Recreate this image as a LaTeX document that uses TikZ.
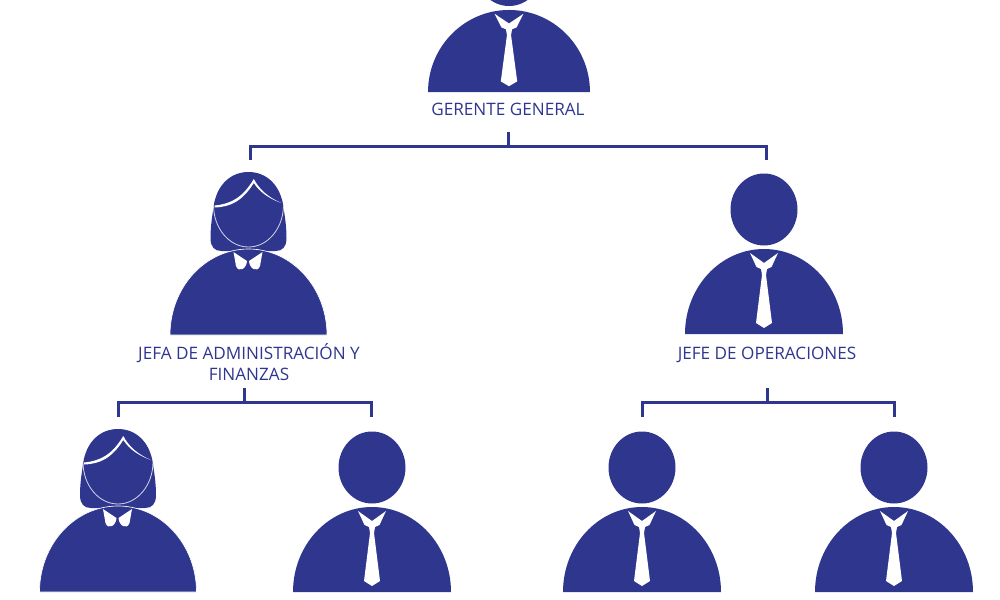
\documentclass[tikz,border=0pt]{standalone}
\usepackage{fontspec}
\setmainfont{Open Sans}
\usepackage{xcolor}
\usetikzlibrary{shapes.geometric}
\definecolor{navy}{HTML}{2F368E}
\tikzset{
    wire/.style={draw=navy, line width=2.25pt},
    caption/.style={text=navy, font=\fontsize{12.85}{15.75}\selectfont, align=center, inner sep=0pt},
    head/.style={draw=none, fill=navy, ellipse, minimum width=50.25pt, minimum height=54pt, inner sep=0pt},
    pics/manfig/.style={code={
        \node[head] at (0,-#1) (-head) {};
        \fill[navy] (-79,0) arc[start angle=180, end angle=360, x radius=79, y radius=85] -- cycle;
        \fill[white] (-14,-81) -- (0,-71) -- (14,-81) -- (7.5,-67) -- (3,-65) -- (2,-59) -- (8,-11) -- (0,-6)
            -- (-8,-11) -- (-2,-59) -- (-3,-65) -- (-7.5,-67) -- cycle;
    }},
    pics/manfig/.default=124.5,
    womanfig/.pic={
        \fill[navy] (-27,-84) .. controls (-34,-84) and (-38,-88) .. (-38,-97)
            .. controls (-38,-110) and (-36,-120) .. (-35,-128)
            .. controls (-32,-150) and (-18,-163) .. (0,-163)
            .. controls (18,-163) and (32,-150) .. (35,-128)
            .. controls (36,-120) and (38,-110) .. (38,-97)
            .. controls (38,-88) and (34,-84) .. (27,-84) -- cycle;
        \draw[white!80!navy, line width=0.6pt] (-35,-130) arc[start angle=180, end angle=0, x radius=35, y radius=42];
        \fill[white] (-34,-129.5) .. controls (-18,-131) and (-6,-137) .. (5.3,-156)
            .. controls (11,-145) and (21,-137) .. (33,-132)
            .. controls (21,-136) and (11,-143) .. (5.3,-152)
            .. controls (-6,-134) and (-18,-128) .. (-34,-127.5) -- cycle;
        \filldraw[fill=navy, draw=white, line width=0.5pt] (-78.5,0) arc[start angle=180, end angle=360, x radius=78.5, y radius=86] -- cycle;
        \fill[white] (-15,-83) -- (-1.5,-74) .. controls (-2,-66) and (-10,-62) .. (-12.5,-69) -- cycle;
        \fill[white] (14,-83) -- (0.5,-74) .. controls (1,-66) and (9,-62) .. (11.5,-69) -- cycle;
    }
}

\begin{document}
\begin{tikzpicture}[x=0.75pt, y=-0.75pt]
    \useasboundingbox (0,0) rectangle (1000,600);

    \pic[xscale=1.025, yscale=0.965] (gerente) at (509,92) {manfig=126.4};
    \pic (jefa) at (248.5,335) {womanfig};
    \pic (jefe) at (764,334) {manfig};
    \pic (asistenta) at (118,592) {womanfig};
    \pic (analista) at (372,592) {manfig};
    \pic (supervisor) at (642,592) {manfig};
    \pic (tecnico) at (894,592) {manfig};

    \node[caption, anchor=base] at (508,115.5) (gerenteText) {GERENTE GENERAL};
    \node[caption] at (249,362.5) (jefaText) {JEFA DE ADMINISTRACIÓN Y\\FINANZAS};
    \node[caption, anchor=base] at (767,359.5) (jefeText) {JEFE DE OPERACIONES};

    \coordinate (gerenteTrunk) at (508,132);
    \coordinate (gerenteBus) at (508,146);
    \coordinate (jefaDrop) at (250,160);
    \coordinate (jefeDrop) at (766,160);
    \coordinate (jefaTrunk) at (244.5,388);
    \coordinate (jefaBus) at (244.5,402.5);
    \coordinate (asistentaDrop) at (118,417);
    \coordinate (analistaDrop) at (371,417);
    \coordinate (jefeTrunk) at (767.5,388);
    \coordinate (jefeBus) at (767.5,402.5);
    \coordinate (supervisorDrop) at (642,417);
    \coordinate (tecnicoDrop) at (894,417);

    \draw[wire] (gerenteTrunk) -- (gerenteBus);
    \draw[wire] (jefaDrop) |- (gerenteBus) -| (jefeDrop);
    \draw[wire] (jefaTrunk) -- (jefaBus);
    \draw[wire] (asistentaDrop) |- (jefaBus) -| (analistaDrop);
    \draw[wire] (jefeTrunk) -- (jefeBus);
    \draw[wire] (supervisorDrop) |- (jefeBus) -| (tecnicoDrop);
\end{tikzpicture}
\end{document}
